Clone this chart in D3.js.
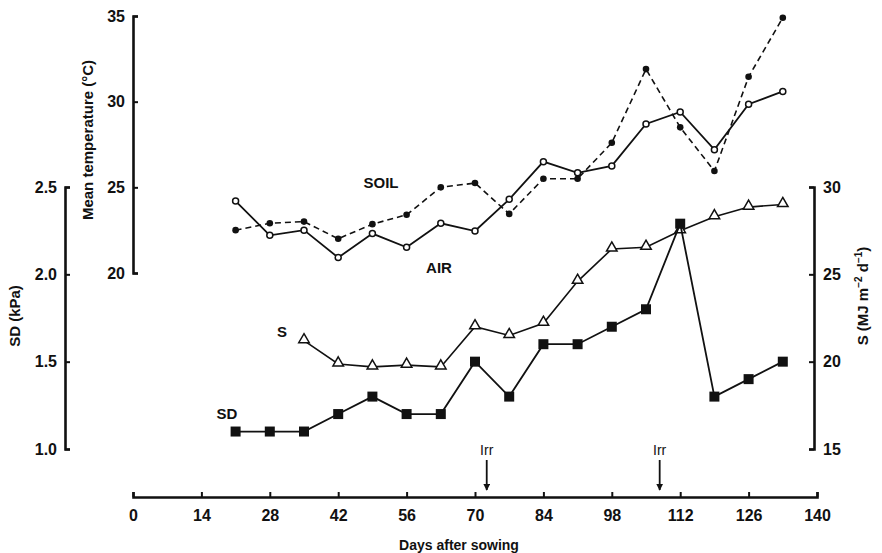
<!DOCTYPE html>
<html>
<head>
<meta charset="utf-8">
<script src="https://cdn.jsdelivr.net/npm/d3@7"></script>
<style>
  body { margin: 0; background: #fff; }
  svg { display: block; font-family: "Liberation Sans", Arial, sans-serif; }
  .axis path, .axis line { stroke: #111; }
  .axis text { font-size: 16px; font-weight: bold; fill: #111; }
</style>
</head>
<body>
<div id="chart"></div>
<script>
// Data
var days = [21, 28, 35, 42, 49, 56, 63, 70, 77, 84, 91, 98, 105, 112, 119, 126, 133];
var airTemp = [24.2, 22.2, 22.5, 20.9, 22.3, 21.5, 22.9, 22.45, 24.3, 26.5, 25.85, 26.25, 28.7, 29.4, 27.2, 29.85, 30.6];
var soilTemp = [22.5, 22.9, 23.0, 22.0, 22.85, 23.4, 25.0, 25.25, 23.45, 25.5, 25.5, 27.6, 31.9, 28.5, 25.95, 31.45, 34.9];
var sdVals = [1.1, 1.1, 1.1, 1.2, 1.3, 1.2, 1.2, 1.5, 1.3, 1.6, 1.6, 1.7, 1.8, 2.29, 1.3, 1.4, 1.5];
var sDays = [35, 42, 49, 56, 63, 70, 77, 84, 91, 98, 105, 112, 119, 126, 133];
var sVals = [21.2, 19.87, 19.7, 19.8, 19.7, 22.0, 21.5, 22.2, 24.6, 26.45, 26.55, 27.5, 28.3, 28.85, 29.0];
var irrDays = [72.4, 107.8];

var xTicks = [0, 14, 28, 42, 56, 70, 84, 98, 112, 126, 140];
var tempTicks = [20, 25, 30, 35];
var sdTicks = [1.0, 1.5, 2.0, 2.5];
var sTicks = [15, 20, 25, 30];

var svgWidth = 882, svgHeight = 553;

var svg = d3.select("#chart").append("svg")
  .attr("width", svgWidth)
  .attr("height", svgHeight);

var x = d3.scaleLinear().domain([0, 140]).range([133, 817]);
var yTemp = d3.scaleLinear().domain([20, 35]).range([273, 16]);
var ySD = d3.scaleLinear().domain([1.0, 2.5]).range([449, 187]);
var yS = d3.scaleLinear().domain([15, 30]).range([449, 187]);

function styleAxis(g) {
  g.attr("class", "axis");
  g.select(".domain").attr("stroke-width", 2.6);
  g.selectAll(".tick line").attr("stroke-width", 2);
}

// x axis
svg.append("g")
  .attr("transform", "translate(0,497)")
  .call(d3.axisBottom(x).tickValues(xTicks).tickSizeInner(-5).tickSizeOuter(-5).tickPadding(13))
  .call(styleAxis);

// temperature axis
svg.append("g")
  .attr("transform", "translate(133,0)")
  .call(d3.axisLeft(yTemp).tickValues(tempTicks).tickSizeInner(-5).tickSizeOuter(-5).tickPadding(8))
  .call(styleAxis);

// SD axis
svg.append("g")
  .attr("transform", "translate(65,0)")
  .call(d3.axisLeft(ySD).tickValues(sdTicks).tickFormat(d3.format(".1f")).tickSizeInner(-5).tickSizeOuter(-5).tickPadding(8))
  .call(styleAxis);

// S axis
svg.append("g")
  .attr("transform", "translate(814,0)")
  .call(d3.axisRight(yS).tickValues(sTicks).tickSizeInner(-5).tickSizeOuter(-5).tickPadding(9))
  .call(styleAxis);

// soil temperature (dashed, filled circles)
var soilLine = d3.line().x((d, i) => x(days[i])).y(d => yTemp(d));
svg.append("path")
  .datum(soilTemp)
  .attr("d", soilLine)
  .attr("fill", "none")
  .attr("stroke", "#111")
  .attr("stroke-width", 1.6)
  .attr("stroke-dasharray", "6,4");
svg.selectAll(".soilpt")
  .data(soilTemp)
  .join("circle")
  .attr("class", "soilpt")
  .attr("cx", (d, i) => x(days[i]))
  .attr("cy", d => yTemp(d))
  .attr("r", 3.3)
  .attr("fill", "#111");

// air temperature (solid, open circles)
var airLine = d3.line().x((d, i) => x(days[i])).y(d => yTemp(d));
svg.append("path")
  .datum(airTemp)
  .attr("d", airLine)
  .attr("fill", "none")
  .attr("stroke", "#111")
  .attr("stroke-width", 1.8);
svg.selectAll(".airpt")
  .data(airTemp)
  .join("circle")
  .attr("class", "airpt")
  .attr("cx", (d, i) => x(days[i]))
  .attr("cy", d => yTemp(d))
  .attr("r", 3)
  .attr("fill", "#fff")
  .attr("stroke", "#111")
  .attr("stroke-width", 1.5);

// S (open triangles)
var sLine = d3.line().x((d, i) => x(sDays[i])).y(d => yS(d));
svg.append("path")
  .datum(sVals)
  .attr("d", sLine)
  .attr("fill", "none")
  .attr("stroke", "#111")
  .attr("stroke-width", 1.6);
var tri = d3.symbol().type(d3.symbolTriangle).size(48);
svg.selectAll(".spt")
  .data(sVals)
  .join("path")
  .attr("class", "spt")
  .attr("d", tri)
  .attr("transform", (d, i) => `translate(${x(sDays[i])},${yS(d) - 1})`)
  .attr("fill", "#fff")
  .attr("stroke", "#111")
  .attr("stroke-width", 1.5);

// SD (filled squares)
var sdLine = d3.line().x((d, i) => x(days[i])).y(d => ySD(d));
svg.append("path")
  .datum(sdVals)
  .attr("d", sdLine)
  .attr("fill", "none")
  .attr("stroke", "#111")
  .attr("stroke-width", 1.8);
svg.selectAll(".sdpt")
  .data(sdVals)
  .join("rect")
  .attr("class", "sdpt")
  .attr("x", (d, i) => x(days[i]) - 5)
  .attr("y", d => ySD(d) - 5)
  .attr("width", 10)
  .attr("height", 10)
  .attr("fill", "#111");

// irrigation arrows
svg.append("defs").append("marker")
  .attr("id", "arrow")
  .attr("viewBox", "0 0 10 10")
  .attr("refX", 9).attr("refY", 5)
  .attr("markerWidth", 7).attr("markerHeight", 7)
  .attr("markerUnits", "userSpaceOnUse")
  .attr("orient", "auto")
  .append("path")
  .attr("d", "M0,0L10,5L0,10Z")
  .attr("fill", "#111");

irrDays.forEach(d => {
  svg.append("text")
    .attr("x", x(d))
    .attr("y", 455)
    .attr("text-anchor", "middle")
    .attr("font-size", "14px")
    .attr("fill", "#111")
    .text("Irr");
  svg.append("line")
    .attr("x1", x(d)).attr("x2", x(d))
    .attr("y1", 460).attr("y2", 490)
    .attr("stroke", "#111")
    .attr("stroke-width", 1.8)
    .attr("marker-end", "url(#arrow)");
});

// series labels
function label(txt, px, py) {
  svg.append("text")
    .attr("x", px).attr("y", py)
    .attr("text-anchor", "middle")
    .attr("font-size", "15px")
    .attr("font-weight", "bold")
    .attr("fill", "#111")
    .text(txt);
}
label("SOIL", 381, 188);
label("AIR", 439, 273);
label("S", 282, 337);
label("SD", 227, 419);

// axis titles
svg.append("text")
  .attr("transform", "translate(93,140) rotate(-90)")
  .attr("text-anchor", "middle")
  .attr("font-size", "15px")
  .attr("font-weight", "bold")
  .attr("fill", "#111")
  .text("Mean temperature (°C)");

svg.append("text")
  .attr("transform", "translate(20,316) rotate(-90)")
  .attr("text-anchor", "middle")
  .attr("font-size", "15px")
  .attr("font-weight", "bold")
  .attr("fill", "#111")
  .text("SD (kPa)");

var sTitle = svg.append("text")
  .attr("transform", "translate(868,296) rotate(-90)")
  .attr("text-anchor", "middle")
  .attr("font-size", "15px")
  .attr("font-weight", "bold")
  .attr("fill", "#111");
sTitle.append("tspan").text("S (MJ m");
sTitle.append("tspan").attr("dy", "-6").attr("font-size", "10px").text("−2");
sTitle.append("tspan").attr("dy", "6").text(" d");
sTitle.append("tspan").attr("dy", "-6").attr("font-size", "10px").text("−1");
sTitle.append("tspan").attr("dy", "6").text(")");

svg.append("text")
  .attr("x", 459)
  .attr("y", 550)
  .attr("text-anchor", "middle")
  .attr("font-size", "14px")
  .attr("font-weight", "bold")
  .attr("fill", "#111")
  .text("Days after sowing");
</script>
</body>
</html>
